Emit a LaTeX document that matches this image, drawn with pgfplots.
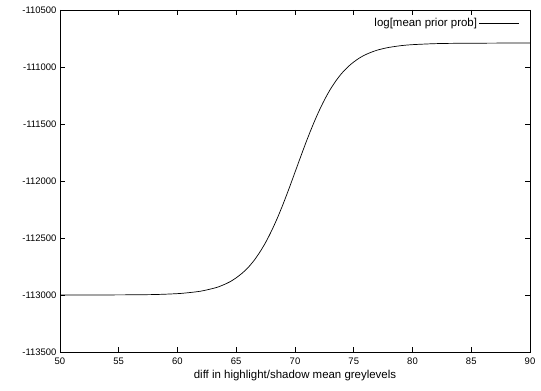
\documentclass[border=0pt]{standalone}
\usepackage{fontspec}
\setmainfont{Liberation Sans}
\usepackage{pgfplots}
\pgfplotsset{compat=1.18}
\begin{document}
\begin{tikzpicture}
\begin{axis}[
  scale only axis,
  width=470bp, height=342bp,
  xmin=50, xmax=90, ymin=-113500, ymax=-110500,
  xtick={50,55,...,90},
  xticklabels={50,55,60,65,70,75,80,85,90},
  ytick={-113500,-113000,...,-110500},
  yticklabels={-113500,-113000,-112500,-112000,-111500,-111000,-110500},
  tick pos=both, tick align=inside,
  major tick length=5bp,
  minor tick num=0,
  axis line style={line width=0.8pt},
  every tick/.style={line width=0.6pt, black},
  scaled ticks=false,
  ticklabel style={font=\fontsize{9.5}{11}\selectfont},
  xticklabel style={yshift=-2bp},
  xlabel={diff in highlight/shadow mean greylevels},
  xlabel style={font=\fontsize{11.5}{13}\selectfont, yshift=1bp},
  legend style={draw=none, fill=none, at={(0.98,0.985)}, anchor=north east,
    font=\fontsize{11.5}{13}\selectfont, inner sep=1pt},
  legend cell align=right,
  legend plot pos=right,
  legend image code/.code={\path (0cm,0cm) -- (0.3cm,0cm); \draw[#1] (0.3cm,0cm) -- (1.4cm,0cm);},
]
\addplot[black, line width=0.7pt, smooth] coordinates {
(50,-113000) (55,-112999) (58,-112996) (60,-112988) (61,-112979) (62,-112966)
(63,-112943) (63.5,-112928) (64,-112907) (64.5,-112882) (65,-112849) (65.5,-112809)
(66,-112760) (66.5,-112699) (67,-112625) (67.5,-112539) (68,-112438) (68.5,-112325)
(69,-112199) (69.5,-112064) (70,-111923) (70.5,-111782) (71,-111644) (71.5,-111515)
(72,-111396) (72.5,-111290) (73,-111197) (73.5,-111119) (74,-111053) (74.5,-110999)
(75,-110956) (75.5,-110920) (76,-110892) (76.5,-110870) (77,-110852) (77.5,-110839)
(78,-110828) (79,-110813) (80,-110804) (82,-110795) (84,-110792) (86,-110791)
(88,-110790) (90,-110790)
};
\addlegendentry{log[mean prior prob]}
\end{axis}
\useasboundingbox ([xshift=-60bp,yshift=-39bp]current axis.south west) rectangle ([xshift=11bp,yshift=10bp]current axis.north east);
\end{tikzpicture}
\end{document}
